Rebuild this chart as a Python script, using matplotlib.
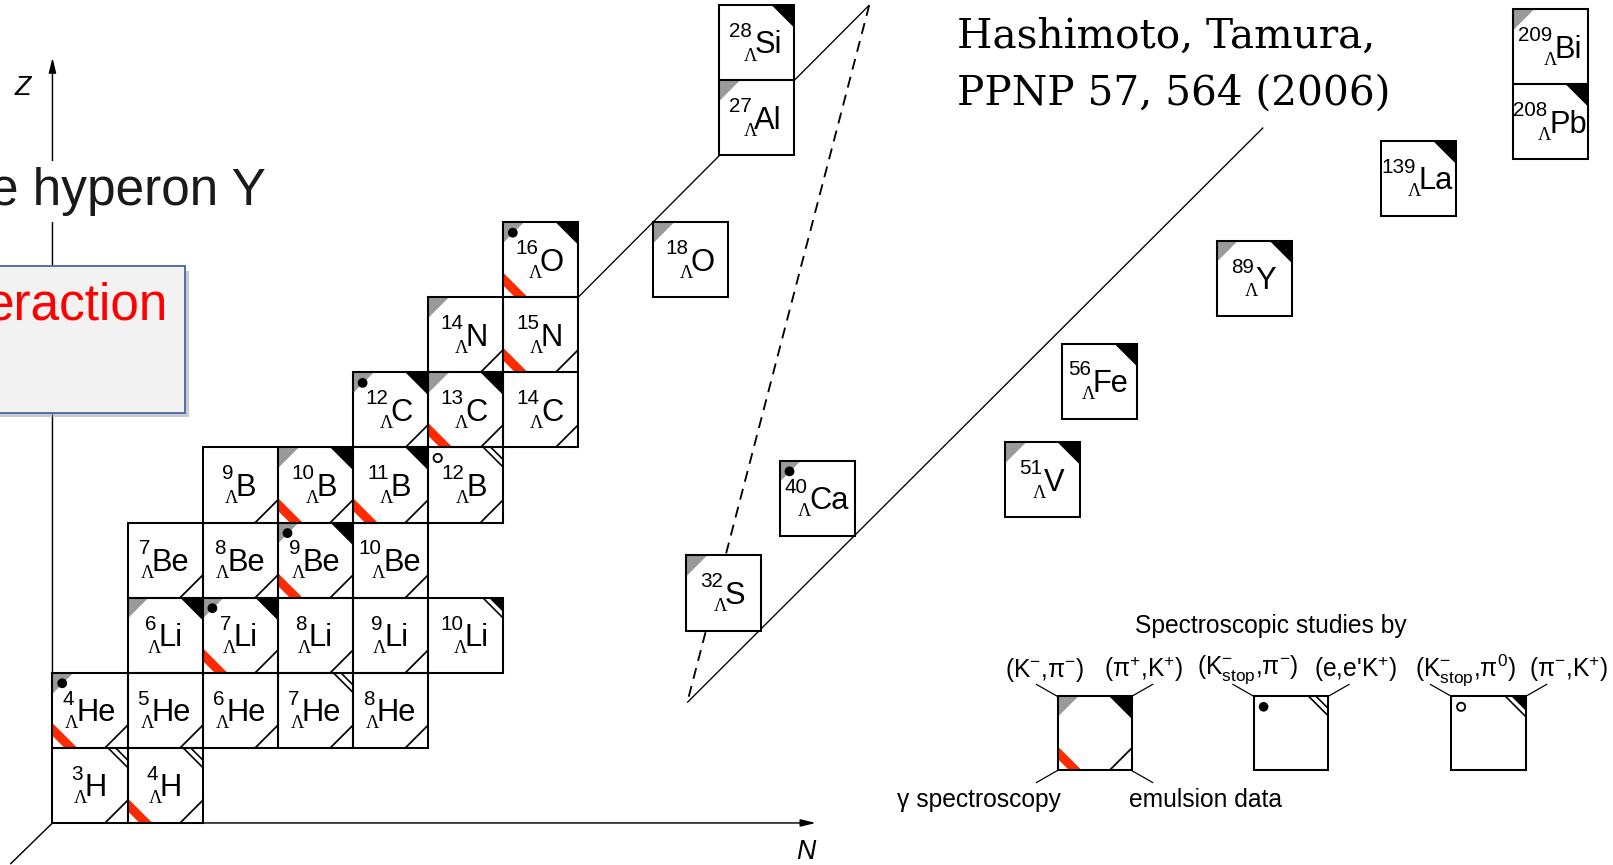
"""Chart of Lambda hypernuclei with the reactions used to study them (after Hashimoto & Tamura)."""
import matplotlib
matplotlib.use("Agg")
import matplotlib.pyplot as plt
from matplotlib.patches import Polygon, Rectangle, Circle

plt.rcParams["font.family"] = ["Liberation Sans", "DejaVu Sans"]
plt.rcParams["mathtext.fontset"] = "custom"
plt.rcParams["mathtext.rm"] = "Liberation Sans"
plt.rcParams["mathtext.it"] = "Liberation Sans:italic"
plt.rcParams["mathtext.bf"] = "Liberation Sans:bold"
plt.rcParams["mathtext.sf"] = "Liberation Sans"

# marks: g (K-,pi-)  b (pi+,K+)  d (K-stop,pi-)  e (e,e'K+)
#        o (K-stop,pi0)  p (pi-,K+)  r gamma spectroscopy  m emulsion data
GRID_A = [3, 4, 4, 5, 6, 7, 8, 6, 7, 8, 9, 10, 7, 8, 9, 10,
          9, 10, 11, 12, 12, 13, 14, 14, 15, 16]
GRID_SYM = ["H", "H", "He", "He", "He", "He", "He", "Li", "Li", "Li", "Li", "Li",
            "Be", "Be", "Be", "Be", "B", "B", "B", "B", "C", "C", "C", "N", "N", "O"]
GRID_Z = [1, 1, 2, 2, 2, 2, 2, 3, 3, 3, 3, 3, 4, 4, 4, 4,
          5, 5, 5, 5, 6, 6, 6, 7, 7, 8]
GRID_MARKS = ["em", "erm", "gdrm", "m", "m", "em", "m", "gb", "gdbrm", "m", "m", "p",
              "m", "m", "gdbrm", "m", "m", "gbrm", "brm", "oem", "gdbm", "gbrm", "m",
              "gm", "rm", "gdbr"]

HEAVY_A = [18, 27, 28, 32, 40, 51, 56, 89, 139, 209, 208]
HEAVY_SYM = ["O", "Al", "Si", "S", "Ca", "V", "Fe", "Y", "La", "Bi", "Pb"]
HEAVY_MARKS = ["g", "g", "b", "g", "gd", "gb", "b", "gb", "b", "g", "b"]
# top-left corners of the free-standing boxes (diagram layout)
HEAVY_POS = [(635, 216), (699, 78), (699, 5), (667, 540), (758, 448), (977, 430),
             (1032, 334), (1183, 234), (1342, 137), (1471, 9), (1471, 82)]

LEGEND_LABELS = [r"(K${}^{-}$,π${}^{-}$)", r"(π${}^{+}$,K${}^{+}$)",
                 r"(K${}^{-}_{\mathrm{stop}}$,π${}^{-}$)", r"(e,e'K${}^{+}$)",
                 r"(K${}^{-}_{\mathrm{stop}}$,π${}^{0}$)", r"(π${}^{-}$,K${}^{+}$)"]
LEGEND_MARKS = ["gbrm", "de", "op"]

W = 1568.0
K = 1613.0 / W
H = 865.0 / K
S = 73.0
GX0, GY0 = 51.0, 727.0
GRAY = "#9a9a9a"
RED = "#ff2a00"
SERIF = ["DejaVu Serif", "Liberation Serif"]


def pt(px):
    return px * K * 0.72


fig = plt.figure(figsize=(16.13, 8.65), dpi=100)
ax = fig.add_axes([0, 0, 1, 1])
ax.set_xlim(0, W)
ax.set_ylim(H, 0)
ax.axis("off")
renderer = fig.canvas.get_renderer()


def seg(x1, y1, x2, y2, lw=1.4, z=4, **kw):
    ax.plot([x1, x2], [y1, y2], color="k", lw=pt(lw), zorder=z,
            solid_capstyle="butt", **kw)


def draw_marks(x0, y0, marks, s=S):
    for m in marks:
        if m == "g":
            ax.add_patch(Polygon([(x0, y0), (x0 + 0.28 * s, y0), (x0, y0 + 0.28 * s)],
                                 closed=True, fc=GRAY, ec="none", zorder=3))
        elif m == "b":
            ax.add_patch(Polygon([(x0 + s, y0), (x0 + 0.7 * s, y0), (x0 + s, y0 + 0.3 * s)],
                                 closed=True, fc="k", ec="none", zorder=3))
        elif m == "r":
            a, b = 0.16 * s, 0.33 * s
            ax.add_patch(Polygon([(x0, y0 + s - a), (x0, y0 + s - b), (x0 + b, y0 + s),
                                  (x0 + a, y0 + s)], closed=True, fc=RED, ec="none", zorder=3))
        elif m == "m":
            seg(x0 + 0.7 * s, y0 + s, x0 + s, y0 + 0.7 * s, lw=1.7, z=3)
        elif m == "d":
            ax.add_patch(Circle((x0 + 0.13 * s, y0 + 0.14 * s), 0.065 * s,
                                fc="k", ec="none", zorder=3))
        elif m == "o":
            ax.add_patch(Circle((x0 + 0.13 * s, y0 + 0.14 * s), 0.055 * s,
                                fc="white", ec="k", lw=pt(1.8), zorder=3))
        elif m == "e":
            for leg in (0.16, 0.26):
                seg(x0 + s - leg * s, y0, x0 + s, y0 + leg * s, lw=1.6, z=3)
        elif m == "p":
            ax.add_patch(Polygon([(x0 + s, y0), (x0 + s - 0.19 * s, y0), (x0 + s, y0 + 0.19 * s)],
                                 closed=True, fc="k", ec="none", zorder=3))
            seg(x0 + s - 0.27 * s, y0, x0 + s, y0 + 0.27 * s, lw=1.6, z=3)


def label(x0, y0, a, sym, s=S):
    tn = ax.text(0, y0 + 31, str(a), fontsize=pt(20), ha="right", va="baseline", zorder=5)
    ts = ax.text(0, y0 + 47, sym, fontsize=pt(30), ha="left", va="baseline", zorder=5)
    tl = ax.text(0, y0 + 54, "Λ", fontsize=pt(18), ha="right", va="baseline",
                 family=["Liberation Serif", "DejaVu Serif"], zorder=5)
    wn = tn.get_window_extent(renderer).width / K
    ws = ts.get_window_extent(renderer).width / K
    gap = 2.0
    left = x0 + s / 2 - 1 - (wn + gap + ws) / 2
    tn.set_x(left + wn)
    ts.set_x(left + wn + gap)
    tl.set_x(left + wn + gap + 2.5)


def box(x0, y0, a, sym, marks, s=S):
    ax.add_patch(Rectangle((x0, y0), s, s, fc="white", ec="none", zorder=2))
    draw_marks(x0, y0, marks, s)
    ax.add_patch(Rectangle((x0, y0), s, s, fill=False, ec="k", lw=pt(2.0), zorder=4))
    if sym:
        label(x0, y0, a, sym, s)


# axes of the chart
ax.annotate("", xy=(51, 56), xytext=(51, 800),
            arrowprops=dict(arrowstyle="-|>,head_length=0.9,head_width=0.22",
                            lw=pt(1.4), color="k", shrinkA=0, shrinkB=0), zorder=1)
ax.annotate("", xy=(793, 800), xytext=(51, 800),
            arrowprops=dict(arrowstyle="-|>,head_length=0.9,head_width=0.22",
                            lw=pt(1.4), color="k", shrinkA=0, shrinkB=0), zorder=1)
seg(51, 800, 10, 840, z=1)
ax.text(22, 86, "Z", fontsize=pt(26), style="italic", ha="center", va="center")
ax.text(783, 828, "N", fontsize=pt(26), style="italic", ha="center", va="center")

# guide lines between the light and heavy regions
seg(562, 289, 845, 5, lw=1.3, z=1)
seg(668, 683, 1228, 124, lw=1.3, z=1)
ax.plot([845, 668], [5, 683], color="k", lw=pt(1.8), ls=(0, (6, 4)), zorder=1)

for a, sym, z, mk in zip(GRID_A, GRID_SYM, GRID_Z, GRID_MARKS):
    col = a - 2 - z
    row = z - 1
    box(GX0 + col * S, GY0 - row * S, a, sym, mk)

for a, sym, mk, (x0, y0) in zip(HEAVY_A, HEAVY_SYM, HEAVY_MARKS, HEAVY_POS):
    box(x0, y0, a, sym, mk)

# reference
ax.text(930, 46, "Hashimoto, Tamura,", fontsize=pt(39.5), ha="left", va="baseline", family=SERIF)
ax.text(930, 102, "PPNP 57, 564 (2006)", fontsize=pt(39.5), ha="left", va="baseline", family=SERIF)

# fragments of the slide behind the figure
ax.text(258, 199.5, "e hyperon Y", fontsize=pt(50), ha="right", va="baseline", color="#1a1a1a",
        zorder=6, bbox=dict(fc="white", ec="none", pad=pt(6)))
ax.add_patch(Rectangle((-20 + 4, 259 + 4), 200, 142, fc="#a8a8a8", ec="none", alpha=0.6, zorder=6))
ax.add_patch(Rectangle((-20, 259), 200, 142, fc="#f2f2f2", ec="#4a68a8", lw=pt(1.8), zorder=7))
ax.text(164, 311, "eraction", fontsize=pt(50), ha="right", va="baseline", color="#ff0000", zorder=8)

# legend
ax.text(1235, 609, "Spectroscopic studies by", fontsize=pt(24), ha="center", va="center")
for x, lab in zip([1015, 1112, 1213, 1318, 1425, 1525], LEGEND_LABELS):
    ax.text(x, 651, lab, fontsize=pt(24), ha="center", va="center")
for i, (x0, mk) in enumerate(zip([1028, 1219, 1411], LEGEND_MARKS)):
    y0 = 677
    box(x0, y0, None, None, mk, s=72)
    seg(x0, y0, x0 - 21, y0 - 12, lw=1.2, z=3)
    seg(x0 + 72, y0, x0 + 93, y0 - 12, lw=1.2, z=3)
    if i == 0:
        seg(x0, y0 + 72, x0 - 21, y0 + 84, lw=1.2, z=3)
        seg(x0 + 72, y0 + 72, x0 + 93, y0 + 84, lw=1.2, z=3)
ax.text(952, 778, "γ spectroscopy", fontsize=pt(24), ha="center", va="center")
ax.text(1172, 778, "emulsion data", fontsize=pt(24), ha="center", va="center")

fig.savefig("out.png", dpi=100, facecolor="white")
